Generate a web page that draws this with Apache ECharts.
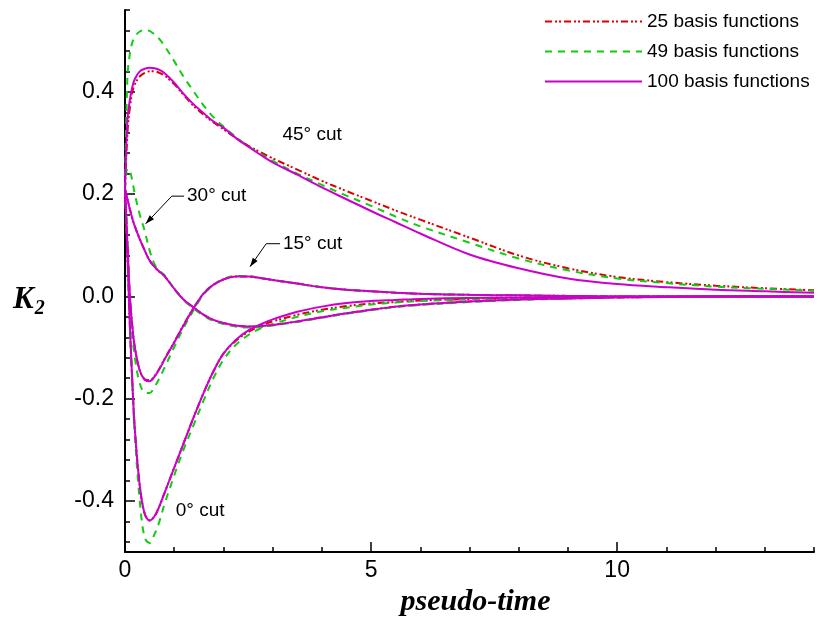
<!DOCTYPE html>
<html>
<head>
<meta charset="utf-8">
<title>K2 vs pseudo-time</title>
<script src="https://cdn.jsdelivr.net/npm/echarts@6/dist/echarts.min.js"></script>
<style>
html, body { margin: 0; padding: 0; background: #fff; }
#container { width: 822px; height: 622px; }
</style>
</head>
<body>
<div id="container"></div>
<script>
// pseudo-time samples shared by every curve
var times = [0, 0.05, 0.1, 0.15, 0.2, 0.3, 0.4, 0.5, 0.6, 0.7, 0.8, 1.0, 1.2, 1.4, 1.6, 1.8, 2.0, 2.25, 2.5, 2.75, 3, 3.5, 4, 4.5, 5, 5.5, 6, 7, 8, 9, 10, 11, 12, 13, 14];

// 45 deg cut
var cut45_25  = [0.21, 0.32, 0.37, 0.40, 0.415, 0.43, 0.437, 0.44, 0.44, 0.437, 0.432, 0.415, 0.393, 0.372, 0.355, 0.34, 0.327, 0.31, 0.295, 0.282, 0.27, 0.248, 0.226, 0.206, 0.187, 0.168, 0.15, 0.115, 0.08, 0.055, 0.038, 0.028, 0.021, 0.016, 0.012];
var cut45_49  = [0.21, 0.43, 0.475, 0.497, 0.508, 0.518, 0.521, 0.519, 0.512, 0.503, 0.49, 0.46, 0.428, 0.40, 0.373, 0.35, 0.332, 0.312, 0.294, 0.279, 0.265, 0.24, 0.218, 0.197, 0.177, 0.156, 0.137, 0.105, 0.074, 0.051, 0.035, 0.026, 0.019, 0.015, 0.011];
var cut45_100 = [0.21, 0.345, 0.385, 0.41, 0.425, 0.44, 0.445, 0.447, 0.446, 0.443, 0.437, 0.418, 0.395, 0.375, 0.358, 0.342, 0.33, 0.31, 0.293, 0.277, 0.262, 0.238, 0.213, 0.19, 0.167, 0.145, 0.123, 0.082, 0.055, 0.035, 0.024, 0.018, 0.013, 0.01, 0.007];

// 30 deg cut
var cut30_25  = [0.21, 0.19, 0.17, 0.152, 0.137, 0.112, 0.09, 0.07, 0.058, 0.048, 0.04, 0.015, -0.007, -0.022, -0.036, -0.046, -0.052, -0.057, -0.059, -0.058, -0.056, -0.049, -0.041, -0.033, -0.026, -0.02, -0.016, -0.01, -0.006, -0.004, -0.002, -0.001, 0, 0, 0];
var cut30_49  = [0.21, 0.25, 0.245, 0.225, 0.2, 0.16, 0.128, 0.09, 0.063, 0.05, 0.042, 0.015, -0.008, -0.024, -0.038, -0.048, -0.054, -0.059, -0.061, -0.06, -0.057, -0.05, -0.042, -0.034, -0.027, -0.021, -0.017, -0.011, -0.007, -0.004, -0.002, -0.001, 0, 0, 0];
var cut30_100 = [0.21, 0.19, 0.17, 0.152, 0.137, 0.112, 0.09, 0.07, 0.058, 0.048, 0.04, 0.015, -0.007, -0.022, -0.036, -0.046, -0.052, -0.057, -0.059, -0.058, -0.056, -0.049, -0.041, -0.033, -0.026, -0.02, -0.016, -0.01, -0.006, -0.004, -0.002, -0.001, 0, 0, 0];

// 15 deg cut
var cut15_25  = [0.21, 0.1, 0.0, -0.06, -0.1, -0.145, -0.162, -0.164, -0.156, -0.141, -0.123, -0.089, -0.054, -0.022, 0.006, 0.023, 0.033, 0.039, 0.039, 0.036, 0.032, 0.025, 0.018, 0.013, 0.01, 0.007, 0.005, 0.003, 0.002, 0.001, 0, 0, 0, 0, 0];
var cut15_49  = [0.21, 0.1, -0.01, -0.075, -0.12, -0.17, -0.188, -0.189, -0.177, -0.16, -0.14, -0.099, -0.06, -0.026, 0.004, 0.022, 0.034, 0.04, 0.04, 0.036, 0.032, 0.025, 0.018, 0.013, 0.01, 0.007, 0.005, 0.003, 0.002, 0.001, 0, 0, 0, 0, 0];
var cut15_100 = [0.21, 0.1, 0.0, -0.06, -0.1, -0.145, -0.163, -0.166, -0.157, -0.142, -0.124, -0.09, -0.055, -0.022, 0.006, 0.023, 0.033, 0.039, 0.039, 0.036, 0.032, 0.025, 0.018, 0.013, 0.01, 0.007, 0.005, 0.003, 0.002, 0.001, 0, 0, 0, 0, 0];

// 0 deg cut
var cut0_25  = [0.21, 0.08, -0.06, -0.17, -0.26, -0.37, -0.425, -0.438, -0.43, -0.41, -0.385, -0.335, -0.285, -0.235, -0.188, -0.146, -0.112, -0.087, -0.07, -0.058, -0.049, -0.036, -0.026, -0.019, -0.014, -0.011, -0.008, -0.005, -0.003, -0.002, -0.001, 0, 0, 0, 0];
var cut0_49  = [0.21, 0.1, -0.05, -0.17, -0.27, -0.40, -0.472, -0.482, -0.465, -0.44, -0.407, -0.35, -0.297, -0.25, -0.203, -0.159, -0.124, -0.095, -0.076, -0.063, -0.054, -0.04, -0.029, -0.022, -0.016, -0.012, -0.009, -0.006, -0.003, -0.002, -0.001, 0, 0, 0, 0];
var cut0_100 = [0.21, 0.08, -0.06, -0.17, -0.26, -0.37, -0.425, -0.438, -0.43, -0.41, -0.385, -0.335, -0.285, -0.235, -0.188, -0.146, -0.112, -0.085, -0.067, -0.055, -0.045, -0.03, -0.02, -0.013, -0.009, -0.007, -0.005, -0.003, -0.002, -0.001, 0, 0, 0, 0, 0];

// tick labels
var xMajorTicks = [0, 5, 10];
var xMinorTicks = [1, 2, 3, 4, 6, 7, 8, 9, 11, 12, 13, 14];
var yMajorTicks = [-0.4, -0.2, 0, 0.2, 0.4];
var yMinorTicks = [-0.48, -0.44, -0.36, -0.32, -0.28, -0.24, -0.16, -0.12, -0.08, -0.04, 0.04, 0.08, 0.12, 0.16, 0.24, 0.28, 0.32, 0.36, 0.44, 0.48, 0.52, 0.56];

var basisNames = ['25 basis functions', '49 basis functions', '100 basis functions'];
var cutNames = ['45\u00b0 cut', '30\u00b0 cut', '15\u00b0 cut', '0\u00b0 cut'];

var SANS = '"Liberation Sans", Arial, sans-serif';
var SERIF = '"Liberation Serif", "Times New Roman", serif';

// line look of each basis set
var basisStyles = [
    { color: '#dd0000', type: [7, 3, 2, 2, 2, 3] },
    { color: '#11cc11', type: [7, 6] },
    { color: '#cc00cc', type: 'solid' }
];

// curves per basis set, in the order of cutNames
var curves = [
    [cut45_25, cut30_25, cut15_25, cut0_25],
    [cut45_49, cut30_49, cut15_49, cut0_49],
    [cut45_100, cut30_100, cut15_100, cut0_100]
];

// annotation placement, data coordinates (text left/middle)
var notes = [
    { text: cutNames[0], at: [3.2, 0.317] },
    { text: cutNames[1], at: [1.26, 0.196], arrow: [[1.2, 0.196], [0.95, 0.196], [0.42, 0.142]] },
    { text: cutNames[2], at: [3.21, 0.103], arrow: [[3.15, 0.103], [2.87, 0.103], [2.54, 0.058]] },
    { text: cutNames[3], at: [1.03, -0.419] }
];

function toPairs(vals) {
    var out = [];
    for (var i = 0; i < times.length; i++) {
        out.push([times[i], vals[i]]);
    }
    return out;
}

var series = [];
for (var b = 0; b < basisNames.length; b++) {
    for (var c = 0; c < cutNames.length; c++) {
        series.push({
            name: basisNames[b],
            type: 'line',
            data: toPairs(curves[b][c]),
            symbol: 'none',
            smooth: 0.35,
            silent: true,
            z: 2 + b,
            itemStyle: { color: basisStyles[b].color },
            lineStyle: {
                color: basisStyles[b].color,
                width: 2,
                type: basisStyles[b].type
            }
        });
    }
}

var axisLineStyle = { color: '#000', width: 2 };

var option = {
    animation: false,
    backgroundColor: '#fff',
    grid: { left: 125, right: 8, top: 10, bottom: 62 },
    legend: {
        orient: 'vertical',
        left: 544,
        top: 12,
        itemWidth: 97,
        itemHeight: 16,
        itemGap: 11,
        padding: 0,
        data: basisNames,
        itemStyle: { opacity: 0 },
        textStyle: { fontSize: 19, color: '#000', fontFamily: SANS }
    },
    xAxis: [
        {
            type: 'value',
            min: 0,
            max: 14,
            position: 'bottom',
            name: 'pseudo-time',
            nameLocation: 'middle',
            nameGap: 29,
            nameTextStyle: { fontFamily: SERIF, fontSize: 30, fontWeight: 'bold', fontStyle: 'italic', color: '#000', padding: [0, 0, 0, 12] },
            axisLine: { onZero: false, lineStyle: axisLineStyle },
            axisTick: { inside: true, length: 10, customValues: xMajorTicks, lineStyle: { color: '#000', width: 1.5 } },
            axisLabel: { customValues: xMajorTicks, fontSize: 23, color: '#000', fontFamily: SANS, margin: 7 },
            splitLine: { show: false }
        },
        {
            type: 'value',
            min: 0,
            max: 14,
            position: 'bottom',
            axisLine: { show: false, onZero: false },
            axisTick: { inside: true, length: 5, customValues: xMinorTicks, lineStyle: { color: '#000', width: 1.5 } },
            axisLabel: { show: false },
            splitLine: { show: false }
        }
    ],
    yAxis: [
        {
            type: 'value',
            min: -0.5,
            max: 0.56,
            position: 'left',
            axisLine: { onZero: false, lineStyle: axisLineStyle },
            axisTick: { inside: true, length: 10, customValues: yMajorTicks, lineStyle: { color: '#000', width: 1.5 } },
            axisLabel: {
                customValues: yMajorTicks,
                fontSize: 23,
                color: '#000',
                fontFamily: SANS,
                margin: 11,
                formatter: function (v) { return v.toFixed(1); }
            },
            splitLine: { show: false }
        },
        {
            type: 'value',
            min: -0.5,
            max: 0.56,
            position: 'left',
            axisLine: { show: false, onZero: false },
            axisTick: { inside: true, length: 5, customValues: yMinorTicks, lineStyle: { color: '#000', width: 1.5 } },
            axisLabel: { show: false },
            splitLine: { show: false }
        }
    ],
    series: series
};

var myChart = echarts.init(document.getElementById('container'), null, { renderer: 'canvas' });
myChart.setOption(option);

// cut labels, arrows and the K2 axis title
function buildNotes() {
    var els = [];
    for (var i = 0; i < notes.length; i++) {
        var p = myChart.convertToPixel({ gridIndex: 0 }, notes[i].at);
        els.push({
            type: 'text',
            x: p[0],
            y: p[1],
            silent: true,
            style: { text: notes[i].text, fill: '#000', font: '19px ' + SANS, verticalAlign: 'middle', align: 'left' }
        });
        if (notes[i].arrow) {
            var pts = [];
            for (var k = 0; k < notes[i].arrow.length; k++) {
                pts.push(myChart.convertToPixel({ gridIndex: 0 }, notes[i].arrow[k]));
            }
            els.push({
                type: 'polyline',
                silent: true,
                shape: { points: pts },
                style: { stroke: '#000', lineWidth: 1, fill: null }
            });
            // arrow head at the last point
            var tip = pts[pts.length - 1], prev = pts[pts.length - 2];
            var ang = Math.atan2(tip[1] - prev[1], tip[0] - prev[0]);
            var len = 9, half = 3;
            var bx = tip[0] - len * Math.cos(ang), by = tip[1] - len * Math.sin(ang);
            els.push({
                type: 'polygon',
                silent: true,
                shape: { points: [
                    tip,
                    [bx + half * Math.sin(ang), by - half * Math.cos(ang)],
                    [bx - half * Math.sin(ang), by + half * Math.cos(ang)]
                ] },
                style: { fill: '#000' }
            });
        }
    }
    els.push({
        type: 'text',
        x: 13,
        y: 300,
        silent: true,
        style: {
            text: '{k|K}{s|2}',
            verticalAlign: 'middle',
            rich: {
                k: { fontFamily: SERIF, fontSize: 31, fontWeight: 'bold', fontStyle: 'italic', fill: '#000' },
                s: { fontFamily: SERIF, fontSize: 20, fontWeight: 'bold', fontStyle: 'italic', fill: '#000', padding: [18, 0, 0, 1] }
            }
        }
    });
    return els;
}

myChart.setOption({ graphic: { elements: buildNotes() } });
</script>
</body>
</html>
